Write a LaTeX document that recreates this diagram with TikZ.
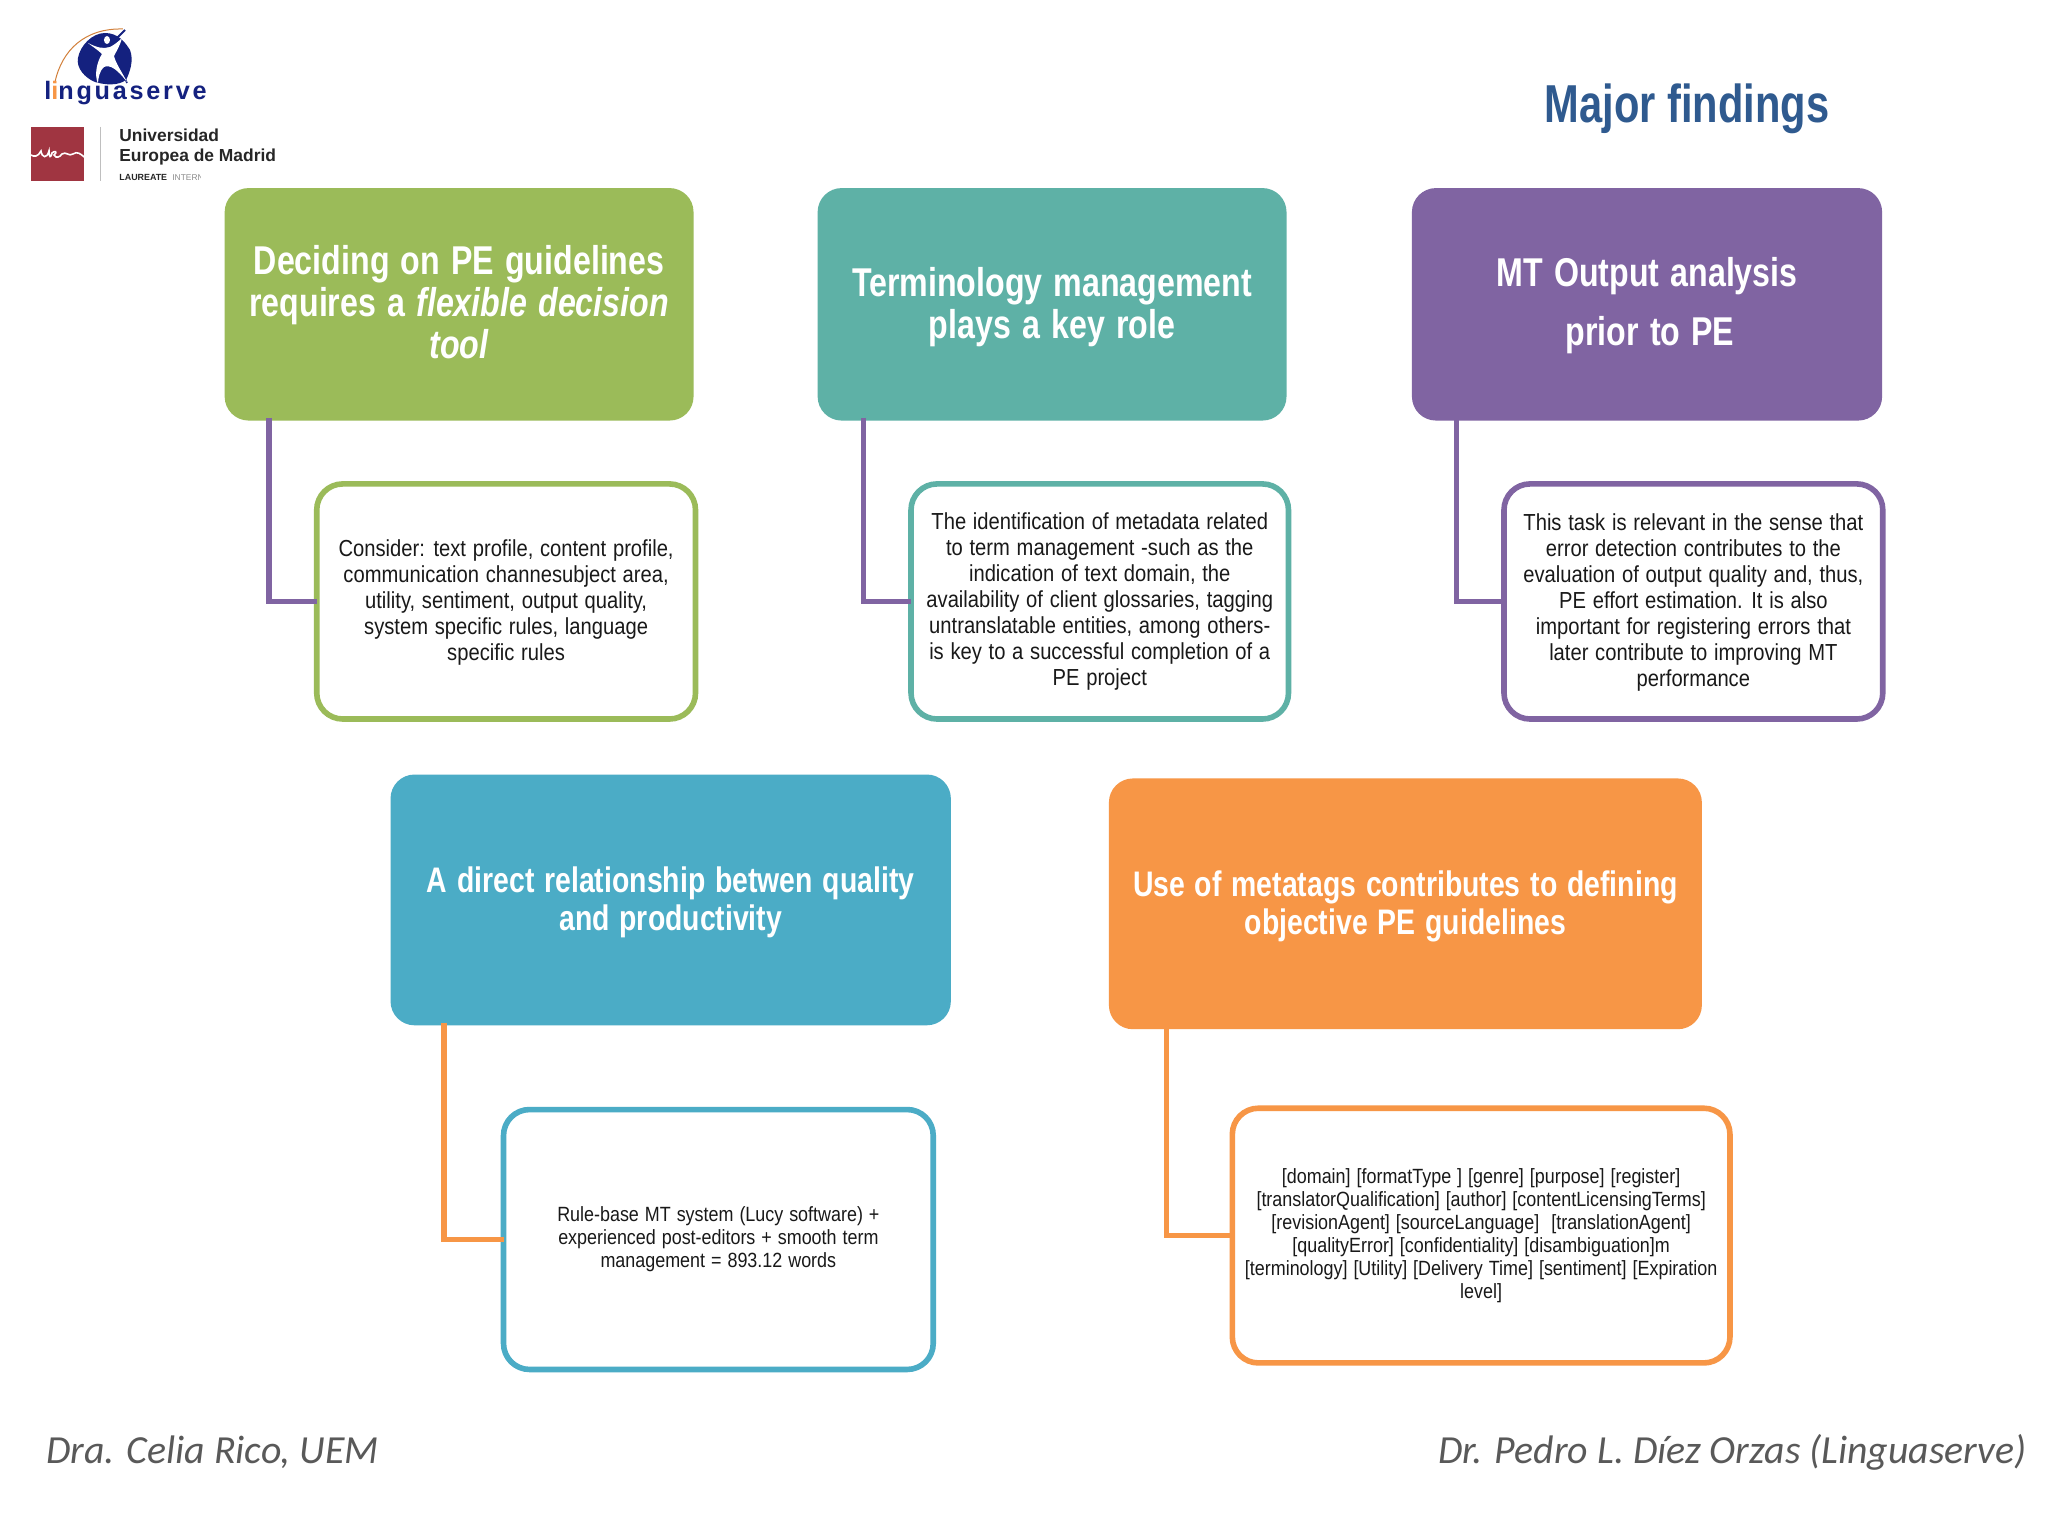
\documentclass[tikz,border=0pt]{standalone}
\usepackage{fontspec}
\usetikzlibrary{calc}
\setmainfont{Liberation Sans}
\newfontfamily\headfont[FakeStretch=0.8,WordSpace=1.25]{Liberation Sans}
\newfontfamily\bodyfont[FakeStretch=0.87,WordSpace=1.2]{Liberation Sans}
\newfontfamily\titlefont[FakeStretch=0.78]{Liberation Sans}
\newfontfamily\footfont{Carlito}
\newfontfamily\logofont[LetterSpace=11]{Liberation Sans}
\definecolor{cgreen}{HTML}{9BBB59}
\definecolor{cteal}{HTML}{5EB1A6}
\definecolor{cpurple}{HTML}{8064A2}
\definecolor{cblue}{HTML}{4BACC6}
\definecolor{corange}{HTML}{F79646}
\definecolor{ctitle}{HTML}{2F5A8F}
\definecolor{cnavy}{HTML}{14217F}
\definecolor{cred}{HTML}{A03541}
\def\du{0.6531pt}
\newcommand{\topstrut}[1]{\rule{0pt}{#1em}}
\tikzset{
  x=0.6531pt,y=-0.6531pt,
  headbox/.style={rounded corners=12pt,text=white,inner sep=0pt,outer sep=0pt,align=center,
    font=\headfont\fontsize{20.1}{21}\selectfont\bfseries},
  widehead/.style={font=\headfont\fontsize{17.75}{19}\selectfont\bfseries},
  detailbox/.style={rounded corners=13pt,draw,line width=2.8pt,fill=white,text=black!90,inner sep=0pt,outer sep=0pt,align=center,
    font=\bodyfont\fontsize{11.6}{13}\selectfont},
  smalltext/.style={font=\bodyfont\fontsize{10.3}{11.5}\selectfont},
  connector/.style={line width=2.8pt,line join=miter},
  foot/.style={text=black!65,inner sep=0pt,font=\footfont\fontsize{19.9}{24}\selectfont\itshape},
}
\begin{document}
\begin{tikzpicture}
\useasboundingbox (0,0) rectangle (1568,1176);
\fill[white] (0,0) rectangle (1568,1176);
% header boxes
\node[headbox,fill=cgreen,minimum width=359*\du,minimum height=178*\du] (h1) at (351.5,233)
  {Deciding on PE guidelines\\requires a \textit{flexible decision}\\\textit{tool}\rule[-0.1em]{0pt}{0.1em}};
\node[headbox,fill=cteal,minimum width=359*\du,minimum height=178*\du] (h2) at (805.5,233)
  {\topstrut{0.84}Terminology management\\plays a key role};
\node[headbox,fill=cpurple,minimum width=360*\du,minimum height=178*\du,
  font=\headfont\fontsize{20.1}{29.4}\selectfont\bfseries] (h3) at (1261,233)
  {\topstrut{0.8}MT Output analysis\\\hspace*{3pt}prior to PE};
\node[headbox,widehead,fill=cblue,minimum width=429*\du,minimum height=192*\du] (h4) at (513.5,689)
  {\topstrut{0.88}A direct relationship betwen quality\\and productivity};
\node[headbox,widehead,fill=corange,minimum width=454*\du,minimum height=192*\du] (h5) at (1076,692)
  {\topstrut{0.88}Use of metatags contributes to defining\\objective PE guidelines};
% detail boxes
\node[detailbox,draw=cgreen,minimum width=290*\du,minimum height=180*\du] (d1) at (387.5,460.5)
  {\topstrut{0.84}Consider: text profile, content profile,\\communication channesubject area,\\utility, sentiment, output quality,\\system specific rules, language\\specific rules};
\node[detailbox,draw=cteal,minimum width=289*\du,minimum height=180*\du] (d2) at (842,460.5)
  {The identification of metadata related\\to term management -such as the\\indication of text domain, the\\availability of client glossaries, tagging\\untranslatable entities, among others-\\is key to a successful completion of a\\PE project};
\node[detailbox,draw=cpurple,minimum width=290*\du,minimum height=180*\du] (d3) at (1296.5,460.5)
  {\topstrut{0.84}This task is relevant in the sense that\\error detection contributes to the\\evaluation of output quality and, thus,\\PE effort estimation. It is also\\important for registering errors that\\later contribute to improving MT\\performance};
\node[detailbox,smalltext,draw=cblue,minimum width=329*\du,minimum height=199*\du] (d4) at (550,949)
  {Rule-base MT system (Lucy software) +\\experienced post-editors + smooth term\\management = 893.12 words};
\node[detailbox,smalltext,draw=corange,minimum width=381*\du,minimum height=195*\du] (d5) at (1134,946)
  {{[domain] [formatType ] [genre] [purpose] [register]}\\{[translatorQualification] [author] [contentLicensingTerms]}\\{[revisionAgent] [sourceLanguage]\ \ [translationAgent]}\\{[qualityError] [confidentiality] [disambiguation]m}\\{[terminology] [Utility] [Delivery Time] [sentiment] [Expiration}\\level]};
% connectors
\draw[connector,cpurple] ($(h1.south west)+(34*\du,2*\du)$) |- (d1.west);
\draw[connector,cpurple] ($(h2.south west)+(35*\du,2*\du)$) |- (d2.west);
\draw[connector,cpurple] ($(h3.south west)+(34*\du,2*\du)$) |- (d3.west);
\draw[connector,corange] ($(h4.south west)+(41*\du,2*\du)$) |- (d4.west);
\draw[connector,corange] ($(h5.south west)+(44*\du,2*\du)$) |- (d5.west);
% title and footers
\node[text=ctitle,inner sep=0pt,font=\titlefont\fontsize{26.7}{30}\selectfont\bfseries] (title) at (1291.5,83) {Major findings};
\node[foot,anchor=west] (footl) at (35,1112) {Dra. Celia Rico, UEM};
\node[foot,anchor=east] (footr) at (1552,1112) {Dr. Pedro L. Díez Orzas (Linguaserve)};
% logos, drawn in reference pixels
\begin{scope}[x=0.5pt,y=-0.5pt]
  \draw[corange!85!black,line width=0.5pt] (55,82) .. controls (62,50) and (85,28) .. (123,29);
  \fill[cnavy] (105,33) .. controls (118,33) and (125,42) .. (130,50) .. controls (134,60) and (130,72) .. (126,80)
     .. controls (118,86) and (105,85) .. (95,82) .. controls (85,78) and (76,68) .. (78,58) .. controls (80,46) and (92,33) .. (105,33) -- cycle;
  \draw[cnavy,line width=1pt] (113,42) -- (125,30);
  \draw[cnavy,line width=0.8pt] (124,76) -- (127,83);
  \fill[white] (88,43) .. controls (98,48) and (103,49) .. (110,47) .. controls (114,45) and (118,42) .. (122,38)
     .. controls (120,46) and (116,52) .. (114,56) .. controls (116,64) and (122,72) .. (127,82)
     .. controls (118,70) and (110,64) .. (104,67) .. controls (100,70) and (98,78) .. (98,84)
     .. controls (94,74) and (97,62) .. (102,54) .. controls (98,50) and (93,47) .. (88,43) -- cycle;
  \fill[white] (107,40) ellipse (3 and 4);
  \node[anchor=base west,inner sep=0pt,text=cnavy,font=\logofont\fontsize{12.6}{14}\selectfont\bfseries] (logotext) at (44,100) {l{\color{corange}i}nguaserve};
  \fill[cred] (31,127) rectangle (84,181);
  \draw[white,line width=0.8pt] (31,155) .. controls (34,157) and (38,157) .. (41,151) .. controls (42,158) and (47,159) .. (49,151)
     .. controls (49,158) and (51,158) .. (52,153) .. controls (55,150) and (58,152) .. (54,155) .. controls (56,159) and (60,157) .. (62,154)
     .. controls (66,151) and (69,157) .. (73,154) .. controls (77,151) and (81,154) .. (84,157);
  \draw[black!25,line width=0.5pt] (101,127) -- (101,181);
  \node[anchor=base west,inner sep=0pt,text=black!85,font=\fontsize{8.7}{10}\selectfont\bfseries] (uni1) at (119,142) {Universidad};
  \node[anchor=base west,inner sep=0pt,text=black!85,font=\fontsize{8.7}{10}\selectfont\bfseries] (uni2) at (119,162) {Europea de Madrid};
  \node[anchor=base west,inner sep=0pt,text=black!85,font=\fontsize{4.45}{6}\selectfont\bfseries] (uni3) at (119,181) {LAUREATE};
  \begin{scope}
    \clip (170,170) rectangle (201,185);
    \node[anchor=base west,inner sep=0pt,text=black!45,font=\fontsize{4.2}{6}\selectfont] (uni4) at (172,181) {INTERNATIONAL};
  \end{scope}
\end{scope}
\end{tikzpicture}
\end{document}
